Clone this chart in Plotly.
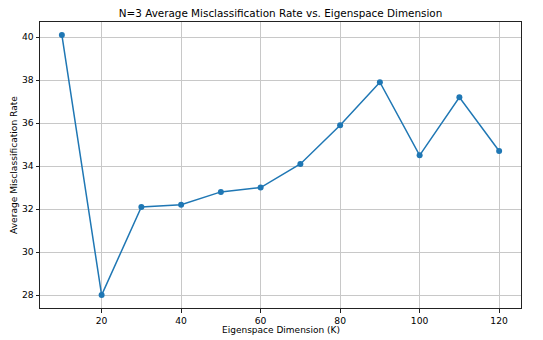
import plotly.graph_objects as go

# Eigenspace dimension K and the averaged misclassification rate (N=3)
dims = [10, 20, 30, 40, 50, 60, 70, 80, 90, 100, 110, 120]
rates = [40.1, 28.0, 32.1, 32.2, 32.8, 33.0, 34.1, 35.9, 37.9, 34.5, 37.2, 34.7]
x_ticks = [20, 40, 60, 80, 100, 120]
y_ticks = [28, 30, 32, 34, 36, 38, 40]

W, H = 543, 340
L, R, T, B = 40, 22, 22, 32

fig = go.Figure()
fig.add_trace(go.Scatter(
    x=dims, y=rates, mode="lines+markers",
    line=dict(color="#1f77b4", width=1.5),
    marker=dict(color="#1f77b4", size=6),
))

axis_common = dict(
    showline=True, linecolor="#222222", linewidth=1, mirror=True,
    ticks="outside", ticklen=3.5, tickwidth=0.8, tickcolor="#222222",
    showgrid=True, gridcolor="#c8c8c8", gridwidth=0.8,
    zeroline=False, tickfont=dict(size=9.2, color="black"),
    automargin=False,
)

fig.update_layout(
    width=W, height=H,
    margin=dict(l=L, r=R, t=T, b=B),
    paper_bgcolor="white", plot_bgcolor="white",
    font=dict(family="DejaVu Sans", color="black"),
    showlegend=False,
    title=dict(text="N=3 Average Misclassification Rate vs. Eigenspace Dimension",
               x=(L + (W - L - R) / 2) / W, xanchor="center", xref="container",
               y=1 - 13 / H, yanchor="middle", yref="container",
               font=dict(size=10.4, color="black")),
    xaxis=dict(axis_common, range=[4.5, 125.5], tickvals=x_ticks),
    yaxis=dict(axis_common, range=[27.4, 40.7], tickvals=y_ticks),
    annotations=[
        dict(text="Eigenspace Dimension (K)", xref="paper", yref="paper",
             x=0.5, y=-(330 - (H - B)) / (H - T - B), xanchor="center", yanchor="middle",
             showarrow=False, font=dict(size=9, color="black")),
        dict(text="Average Misclassification Rate", xref="paper", yref="paper",
             x=-(L - 14) / (W - L - R), y=0.5, xanchor="center", yanchor="middle",
             textangle=-90, showarrow=False, font=dict(size=9.1, color="black")),
    ],
)

fig.write_html("out.html")
